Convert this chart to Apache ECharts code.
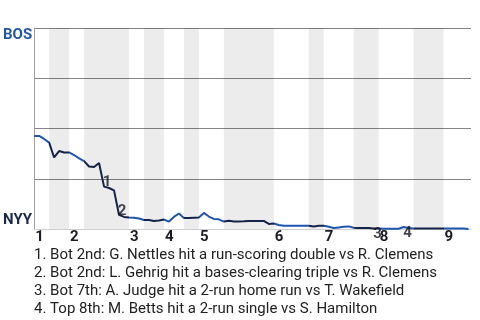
<!DOCTYPE html>
<html>
<head>
<meta charset="utf-8">
<script src="https://cdn.jsdelivr.net/npm/echarts@6/dist/echarts.min.js"></script>
<style>html,body{margin:0;padding:0;background:#fff}#c{width:480px;height:320px}</style>
</head>
<body>
<div id="c"></div>
<script>
// Inning labels and the play index at which each half inning begins
const innings = ['1','2','3','4','5','6','7','8','9'];
const halfStarts = [0,3,7,10,19,22,26,30,33,38,48,55,58,64,69,76,82];
const lastIndex = 87.5;
// BOS win probability (%) after each play
const bosWinPct = [
  46.3,46.3,44.8,43.0,35.6,38.8,38.1,38.1,36.8,35.1,
  33.8,31.1,30.8,32.8,21.1,20.4,19.2,7.0,6.0,5.7,
  5.6,5.2,4.5,4.5,4.0,4.2,4.7,3.7,6.0,7.7,
  5.5,5.5,5.6,5.7,8.0,6.2,5.0,4.8,3.7,4.1,
  3.7,3.7,3.8,4.0,4.0,4.0,4.0,2.5,2.7,2.0,
  1.6,1.6,1.6,1.6,1.6,1.6,1.2,1.6,1.6,1.1,
  0.5,0.8,1.1,1.3,0.6,0.5,0.5,0.5,0.3,0.3,
  0.1,0.1,0.1,0.1,1.0,0.5,0.2,0.2,0.2,0.2,
  0.2,0.2,0.2,0.2,0.2,0.2,0.2,0.0
];
const yTeams = {top:'BOS', bottom:'NYY'};
// Key plays
const eventPlays = [14,17,68,74];
const eventTexts = [
  '1. Bot 2nd: G. Nettles hit a run-scoring double vs R. Clemens',
  '2. Bot 2nd: L. Gehrig hit a bases-clearing triple vs R. Clemens',
  '3. Bot 7th: A. Judge hit a 2-run home run vs T. Wakefield',
  '4. Top 8th: M. Betts hit a 2-run single vs S. Hamilton'
];

const BLUE = '#1d55b0', NAVY = '#142448';
const inningStarts = halfStarts.filter((_, i) => i % 2 === 0);
const ends = halfStarts.slice(1).concat([lastIndex]);

const pieces = halfStarts.map((s, i) => ({gte: s, lt: ends[i], color: i % 2 === 0 ? BLUE : NAVY}));
const bands = [];
halfStarts.forEach((s, i) => { if (i % 2 === 1) bands.push([{xAxis: s}, {xAxis: ends[i]}]); });

const lineData = bosWinPct.map((v, i) => [i, v]);
const eventData = eventPlays.map((p, k) => {
  const low = bosWinPct[p] < 3;
  return {
    value: [p, bosWinPct[p]],
    label: {offset: low ? [4, 6] : [3, -4]}
  };
});

const chart = echarts.init(document.getElementById('c'));
chart.setOption({
  animation: false,
  textStyle: {fontFamily: 'Roboto'},
  title: {
    text: eventTexts.join('\n'),
    left: 29, top: 241,
    textStyle: {fontSize: 15, fontWeight: 'normal', color: '#222', lineHeight: 18, fontFamily: 'Roboto'}
  },
  grid: {left: 33, right: 9, top: 28, bottom: 91, containLabel: false},
  xAxis: {
    type: 'value', min: 0, max: lastIndex, interval: 1,
    axisLine: {show: true, lineStyle: {color: '#cfcfcf', width: 1}},
    axisTick: {show: false},
    splitLine: {show: false},
    axisLabel: {
      margin: 1, align: 'left', padding: [0, 0, 0, 1],
      fontSize: 15, fontWeight: 'bold', color: '#1b1b26',
      formatter: v => { const i = inningStarts.indexOf(v); return i >= 0 ? innings[i] : ''; }
    }
  },
  yAxis: {
    type: 'value', min: 0, max: 100, interval: 25,
    axisLine: {show: true, lineStyle: {color: '#a0a0a0'}},
    axisTick: {show: false},
    splitLine: {show: true, lineStyle: {color: '#858585', width: 1}},
    axisLabel: {
      margin: 2,
      formatter: v => v === 100 ? '{b|' + yTeams.top + '}' : (v === 0 ? '{n|' + yTeams.bottom + '}' : ''),
      rich: {
        b: {color: '#2456a6', fontSize: 15, fontWeight: 'bold', padding: [14, 0, 0, 0], fontFamily: 'Roboto'},
        n: {color: '#1c2848', fontSize: 15, fontWeight: 'bold', padding: [0, 0, 17, 0], fontFamily: 'Roboto'}
      }
    }
  },
  visualMap: {show: false, type: 'piecewise', dimension: 0, seriesIndex: 0, pieces: pieces},
  series: [
    {
      type: 'line', data: lineData, symbol: 'none', lineStyle: {width: 2},
      markArea: {silent: true, itemStyle: {color: 'rgba(0,0,0,0.075)'}, data: bands}
    },
    {
      type: 'scatter', data: eventData, symbolSize: 0, z: 5,
      label: {
        show: true, position: 'inside', fontSize: 15, fontWeight: 'bold', color: '#151520',
        formatter: p => String(p.dataIndex + 1)
      }
    }
  ]
});
</script>
</body>
</html>
